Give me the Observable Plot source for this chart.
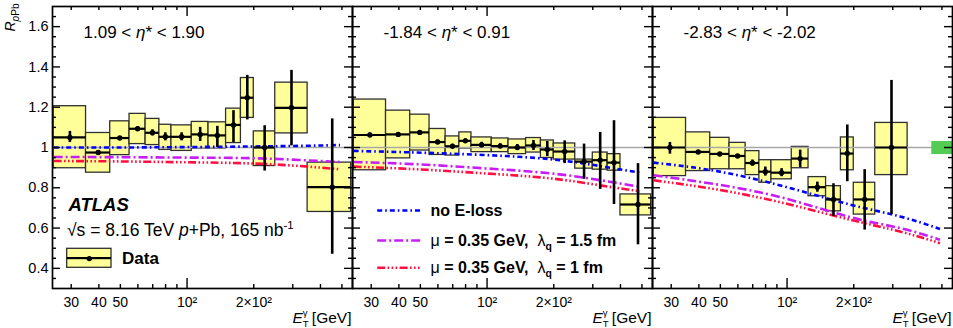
<!DOCTYPE html>
<html><head><meta charset="utf-8">
<script src="https://cdn.jsdelivr.net/npm/d3@7"></script>
<script src="https://cdn.jsdelivr.net/npm/@observablehq/plot@0.6"></script>
<style>body{margin:0;background:#fff;overflow:hidden}</style>
</head><body><div id="chart"></div>
<script>
// ---------- data ----------
const panels = ["p1", "p2", "p3"];
const xTickValues = [30, 40, 50, 100, 200];
const xTickLabels = ["30", "40", "50", "10²", "2×10²"];
const yTickValues = [0.4, 0.6, 0.8, 1, 1.2, 1.4, 1.6];
const yTickLabels = ["0.4", "0.6", "0.8", "1", "1.2", "1.4", "1.6"];
const xMajorTicks = [100];
const xMinorTicks = [30, 40, 50, 60, 70, 80, 90, 200, 300, 400, 500];
const yMinorTicks = [0.35, 0.45, 0.5, 0.55, 0.65, 0.7, 0.75, 0.85, 0.9, 0.95, 1.05, 1.1, 1.15, 1.25, 1.3, 1.35, 1.45, 1.5, 1.55, 1.65];

// panel 1: 1.09 < eta* < 1.90
const binLo1 = [25, 35, 45, 55, 65, 75, 85, 105, 125, 150, 175, 200, 250, 350];
const binHi1 = [35, 45, 55, 65, 75, 85, 105, 125, 150, 175, 200, 250, 350, 550];
const xPt1 = [29.6, 39.7, 49.7, 59.8, 69.8, 79.8, 94.5, 114.6, 137, 162, 187, 224, 296, 452];
const val1 = [1.05, 0.975, 1.047, 1.093, 1.073, 1.053, 1.053, 1.065, 1.06, 1.112, 1.247, 1.0, 1.197, 0.803];
const sysLo1 = [0.897, 0.875, 0.962, 1.017, 1.012, 0.988, 0.983, 0.995, 0.995, 1.022, 1.147, 0.908, 1.07, 0.68];
const sysHi1 = [1.205, 1.072, 1.13, 1.167, 1.142, 1.113, 1.11, 1.127, 1.125, 1.193, 1.345, 1.08, 1.322, 0.925];
const statLo1 = [1.025, 0.965, 1.04, 1.083, 1.058, 1.033, 1.033, 1.03, 1.0, 1.025, 1.137, 0.883, 1.008, 0.47];
const statHi1 = [1.08, 0.985, 1.054, 1.103, 1.088, 1.073, 1.073, 1.1, 1.105, 1.183, 1.358, 1.108, 1.383, 1.142];

// panel 2: -1.84 < eta* < 0.91
const binLo2 = [25, 35, 45, 55, 65, 75, 85, 105, 125, 150, 175, 200, 250, 300, 350, 400];
const binHi2 = [35, 45, 55, 65, 75, 85, 105, 125, 150, 175, 200, 250, 300, 350, 400, 550];
const xPt2 = [29.6, 39.7, 49.7, 59.8, 69.8, 79.8, 94.5, 114.6, 137, 162, 187, 224, 274, 324, 374, 480];
const val2 = [1.062, 1.065, 1.075, 1.027, 1.006, 1.033, 1.013, 1.007, 1.0, 1.01, 0.99, 0.98, 0.93, 0.937, 0.925, 0.717];
const sysLo2 = [0.887, 0.946, 0.985, 0.963, 0.96, 0.995, 0.977, 0.977, 0.967, 0.975, 0.948, 0.94, 0.895, 0.89, 0.885, 0.663];
const sysHi2 = [1.238, 1.183, 1.163, 1.092, 1.055, 1.075, 1.05, 1.045, 1.04, 1.047, 1.035, 1.02, 0.94, 0.975, 0.967, 0.767];
const statLo2 = [1.052, 1.057, 1.067, 1.017, 0.996, 1.023, 1.0, 0.995, 0.985, 0.985, 0.955, 0.92, 0.842, 0.792, 0.717, 0.517];
const statHi2 = [1.072, 1.073, 1.083, 1.037, 1.016, 1.043, 1.026, 1.019, 1.015, 1.035, 1.03, 1.033, 1.017, 1.075, 1.133, 0.92];

// panel 3: -2.83 < eta* < -2.02
const binLo3 = [25, 35, 45, 55, 65, 75, 85, 105, 125, 150, 175, 200, 250];
const binHi3 = [35, 45, 55, 65, 75, 85, 105, 125, 150, 175, 200, 250, 350];
const xPt3 = [29.6, 39.7, 49.7, 59.8, 69.8, 79.8, 94.5, 114.6, 137, 162, 187, 224, 296];
const val3 = [1.0, 0.978, 0.968, 0.958, 0.923, 0.88, 0.875, 0.945, 0.803, 0.742, 0.97, 0.742, 1.0];
const sysLo3 = [0.858, 0.883, 0.892, 0.892, 0.863, 0.825, 0.842, 0.897, 0.758, 0.683, 0.887, 0.667, 0.863];
const sysHi3 = [1.147, 1.075, 1.048, 1.023, 0.982, 0.937, 0.937, 1.003, 0.853, 0.808, 1.05, 0.825, 1.122];
const statLo3 = [0.967, 0.973, 0.963, 0.953, 0.908, 0.858, 0.855, 0.9, 0.778, 0.658, 0.83, 0.59, 0.667];
const statHi3 = [1.025, 0.983, 0.973, 0.963, 0.938, 0.903, 0.895, 0.987, 0.828, 0.82, 1.112, 0.89, 1.333];

// theory curves
const modelX = [25, 48, 96, 192, 323, 490];
const noEloss1 = [1.0, 1.0, 1.002, 1.005, 1.008, 1.012];
const lam15_1 = [0.953, 0.952, 0.95, 0.947, 0.938, 0.928];
const lam10_1 = [0.933, 0.931, 0.927, 0.921, 0.908, 0.892];
const noEloss2 = [0.983, 0.975, 0.963, 0.942, 0.908, 0.875];
const lam15_2 = [0.928, 0.917, 0.897, 0.872, 0.838, 0.805];
const lam10_2 = [0.905, 0.892, 0.872, 0.847, 0.812, 0.783];
const noEloss3 = [0.925, 0.883, 0.808, 0.717, 0.658, 0.595];
const lam15_3 = [0.862, 0.817, 0.75, 0.655, 0.6, 0.542];
const lam10_3 = [0.837, 0.792, 0.725, 0.642, 0.583, 0.525];

// normalisation uncertainty box
const normBox = {x1: 450, x2: 558, y1: 0.965, y2: 1.03};

// ---------- rich text helper ----------
const RICH = new Map();
function rich(...segs) {
  const s = segs.map(g => typeof g === "string" ? g : g.t).join("");
  RICH.set(s, segs.map(g => typeof g === "string" ? {t: g} : g));
  return s;
}
const panelLabels = [
  rich("1.09 < ", {t: "η", i: true}, "* < 1.90"),
  rich("-1.84 < ", {t: "η", i: true}, "* < 0.91"),
  rich("-2.83 < ", {t: "η", i: true}, "* < -2.02")
];
const yTitle = rich({t: "R", i: true}, {t: "p", sub: true, i: true, scale: 0.72}, {t: "Pb", sub: true, scale: 0.72});
const xTitle = rich({t: "E", i: true}, {t: "T", sub: true, scale: 0.62}, {t: "γ", sup: true, scale: 0.62, dx: -0.38}, " [GeV]");
const energyText = rich("√s = 8.16 TeV ", {t: "p", i: true}, "+Pb, 165 nb", {t: "-1", sup: true, scale: 0.65});
const modelNames = [
  "no E-loss",
  rich({t: "μ", n: true}, " = 0.35 GeV,  ", {t: "λ", n: true}, {t: "q", sub: true, scale: 0.65}, " = 1.5 fm"),
  rich({t: "μ", n: true}, " = 0.35 GeV,  ", {t: "λ", n: true}, {t: "q", sub: true, scale: 0.65}, " = 1 fm")
];
const modelColors = ["#0000ff", "#c81ef5", "#ff1040"];
const modelDash = ["5,3,1.6,3", "9,3,2,3", "8,2.4,1.6,2.4,1.6,2.4,1.6,2.4"];

// ---------- tables ----------
const rows = [];
function addPanel(fx, lo, hi, xp, v, sl, sh, tl, th) {
  for (let i = 0; i < lo.length; i++)
    rows.push({fx, lo: lo[i], hi: hi[i], x: xp[i], y: v[i], sysLo: sl[i], sysHi: sh[i], statLo: tl[i], statHi: th[i]});
}
addPanel("p1", binLo1, binHi1, xPt1, val1, sysLo1, sysHi1, statLo1, statHi1);
addPanel("p2", binLo2, binHi2, xPt2, val2, sysLo2, sysHi2, statLo2, statHi2);
addPanel("p3", binLo3, binHi3, xPt3, val3, sysLo3, sysHi3, statLo3, statHi3);

const curves = [];
const curveSets = [["p1", [noEloss1, lam15_1, lam10_1]], ["p2", [noEloss2, lam15_2, lam10_2]], ["p3", [noEloss3, lam15_3, lam10_3]]];
for (const [fx, sets] of curveSets)
  sets.forEach((ys, m) => ys.forEach((y, i) => curves.push({fx, m, x: modelX[i], y})));

// ---------- layout ----------
const W = 300, H = 282;
const yellow = "#ffff99";
const hLine = {draw(ctx, l) { ctx.moveTo(0, 0); ctx.lineTo(l, 0); }};
const legendRowsY = [204, 234, 261.3];
const mid = {lineAnchor: "middle"};

const marks = [
  Plot.rect(rows, {fx: "fx", x1: "lo", x2: "hi", y1: "sysLo", y2: "sysHi", fill: yellow, stroke: "#303030", strokeWidth: 1.3, clip: true}),
  Plot.ruleY([1], {stroke: "#a8a8a8", strokeWidth: 1.3}),
  ...[0, 1, 2].map(m => Plot.line(curves.filter(d => d.m === m), {
    fx: "fx", x: "x", y: "y", z: "fx", stroke: modelColors[m], strokeWidth: 2.6,
    strokeDasharray: modelDash[m], strokeLinecap: "butt", curve: "natural", clip: true
  })),
  Plot.ruleY(rows, {fx: "fx", y: "y", x1: "lo", x2: "hi", stroke: "black", strokeWidth: 2.2, clip: true}),
  Plot.ruleX(rows, {fx: "fx", x: "x", y1: "statLo", y2: "statHi", stroke: "black", strokeWidth: 2.6, clip: true}),
  Plot.dot(rows, {fx: "fx", x: "x", y: "y", r: 2.7, fill: "black"}),
  Plot.rect([{fx: "p3", ...normBox}], {fx: "fx", x1: "x1", x2: "x2", y1: "y1", y2: "y2", fill: "#52cc52", clip: true}),
  // ticks inside the frames
  Plot.tickY(yTickValues, {insetRight: W - 8, strokeWidth: 1.4}),
  Plot.tickY(yMinorTicks, {insetRight: W - 4, strokeWidth: 1.4}),
  Plot.tickY(yTickValues, {insetLeft: W - 8, strokeWidth: 1.4}),
  Plot.tickY(yMinorTicks, {insetLeft: W - 4, strokeWidth: 1.4}),
  Plot.tickX(xMajorTicks, {insetTop: H - 10, strokeWidth: 1.4}),
  Plot.tickX(xMinorTicks, {insetTop: H - 4, strokeWidth: 1.4}),
  Plot.tickX(xMajorTicks, {insetBottom: H - 10, strokeWidth: 1.4}),
  Plot.tickX(xMinorTicks, {insetBottom: H - 4, strokeWidth: 1.4}),
  Plot.frame({stroke: "black", strokeWidth: 1.7}),
  Plot.axisY({ticks: yTickValues, tickSize: 0, tickPadding: 4, fontSize: 14.5, label: null,
    tickFormat: d => yTickLabels[yTickValues.indexOf(d)]}),
  Plot.axisX({ticks: xTickValues, tickSize: 0, tickPadding: 9, fontSize: 14, label: null,
    tickFormat: d => xTickLabels[xTickValues.indexOf(d)]}),
  // panel labels
  Plot.text(panels.map((fx, i) => ({fx, t: panelLabels[i]})), {fx: "fx", text: "t", frameAnchor: "top-left", dx: 31, dy: 25.7, textAnchor: "start", fontSize: 17, ...mid}),
  // axis titles
  Plot.text(panels.map(fx => ({fx, t: xTitle})), {fx: "fx", text: "t", frameAnchor: "bottom-right", dx: -1, dy: 29.5, textAnchor: "end", fontSize: 15.5, ...mid}),
  Plot.text([{fx: "p1", t: yTitle}], {fx: "fx", text: "t", frameAnchor: "top-left", dx: -42, dy: -3, rotate: -90, textAnchor: "end", fontSize: 14, ...mid}),
  // ATLAS legend (panel 1)
  Plot.text([{fx: "p1", t: "ATLAS"}], {fx: "fx", text: "t", frameAnchor: "top-left", dx: 16, dy: 199, textAnchor: "start", fontSize: 18.5, fontWeight: "bold", fontStyle: "italic", ...mid}),
  Plot.text([{fx: "p1", t: energyText}], {fx: "fx", text: "t", frameAnchor: "top-left", dx: 14.5, dy: 224, textAnchor: "start", fontSize: 17.5, ...mid}),
  Plot.rect([{fx: "p1"}], {fx: "fx", insetLeft: 14.7, insetRight: W - 59, insetTop: 242.3, insetBottom: H - 261.3, fill: yellow, stroke: "#303030", strokeWidth: 1.3}),
  Plot.rect([{fx: "p1"}], {fx: "fx", insetLeft: 14.7, insetRight: W - 59, insetTop: 251, insetBottom: H - 253.2, fill: "black"}),
  Plot.dot([{fx: "p1"}], {fx: "fx", frameAnchor: "top-left", dx: 36.8, dy: 252.1, r: 2.7, fill: "black"}),
  Plot.text([{fx: "p1", t: "Data"}], {fx: "fx", text: "t", frameAnchor: "top-left", dx: 69.5, dy: 252, textAnchor: "start", fontSize: 17, fontWeight: "bold", ...mid}),
  // model legend (panel 2)
  ...[0, 1, 2].map(m => Plot.vector([{fx: "p2"}], {fx: "fx", frameAnchor: "top-left", dx: 24.7, dy: legendRowsY[m],
    length: 43.3, rotate: 0, anchor: "start", shape: hLine, stroke: modelColors[m], strokeWidth: 2.6,
    strokeDasharray: modelDash[m], strokeLinecap: "butt"})),
  ...[0, 1, 2].map(m => Plot.text([{fx: "p2", t: modelNames[m]}], {fx: "fx", text: "t", frameAnchor: "top-left", dx: 78,
    dy: legendRowsY[m], textAnchor: "start", fontSize: 16, fontWeight: "bold", ...mid}))
];

const chart = Plot.plot({
  width: 953, height: 328,
  marginLeft: 52, marginRight: 1, marginTop: 6, marginBottom: 40,
  style: {fontFamily: "'Liberation Sans', Arial, Helvetica, sans-serif", fontSize: "14px", background: "white", color: "black", overflow: "visible"},
  fx: {domain: panels, padding: 0, axis: null},
  x: {type: "log", domain: [24.7, 558]},
  y: {domain: [0.3, 1.7]},
  marks
});
document.getElementById("chart").appendChild(chart);

// ---------- rich text post-processing ----------
const NS = "http://www.w3.org/2000/svg";
chart.querySelectorAll("text").forEach(el => {
  const key = el.textContent;
  if (!RICH.has(key)) return;
  const F = parseFloat(getComputedStyle(el).fontSize) || 14;
  el.textContent = "";
  let shift = 0;
  for (const g of RICH.get(key)) {
    const ts = document.createElementNS(NS, "tspan");
    const target = g.sup ? -0.42 * F : g.sub ? 0.26 * F : 0;
    const dy = target - shift; shift = target;
    if (dy) ts.setAttribute("dy", dy);
    if (g.dx) ts.setAttribute("dx", g.dx * F);
    if (g.sup || g.sub) ts.setAttribute("font-size", (g.scale || 0.68) * F);
    if (g.i) ts.setAttribute("font-style", "italic");
    if (g.n) ts.setAttribute("font-weight", "normal");
    ts.textContent = g.t;
    el.appendChild(ts);
  }
});
</script></body></html>
